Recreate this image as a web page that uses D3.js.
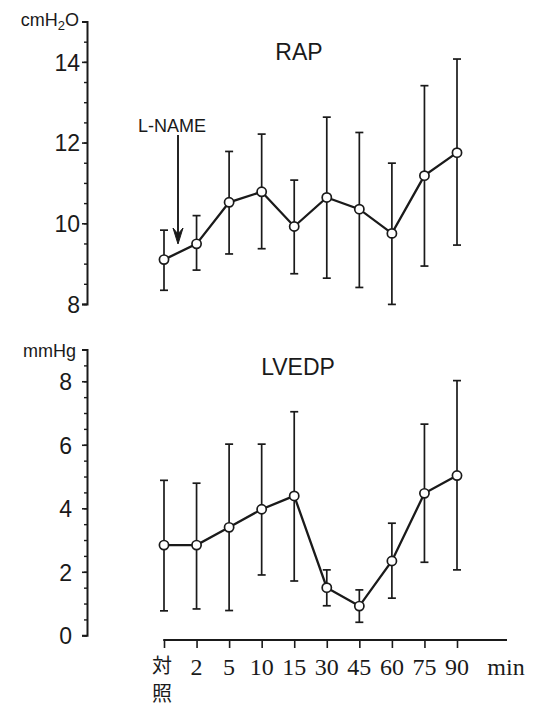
<!DOCTYPE html>
<html>
<head>
<meta charset="utf-8">
<script src="https://cdn.jsdelivr.net/npm/d3@7"></script>
<style>
  html, body { margin: 0; padding: 0; background: #ffffff; }
  svg { display: block; }
  text { fill: #1a1a1a; }
</style>
</head>
<body>
<svg id="chart" width="540" height="708"></svg>
<script>
// ---- data ----
const categories = ["対照", "2", "5", "10", "15", "30", "45", "60", "75", "90"];
const rapMean  = [9.10, 9.49, 10.52, 10.78, 9.92, 10.64, 10.35, 9.75, 11.18, 11.75];
const rapUpper = [9.83, 10.19, 11.78, 12.21, 11.07, 12.63, 12.25, 11.49, 13.41, 14.07];
const rapLower = [8.34, 8.84, 9.24, 9.37, 8.75, 8.64, 8.41, 7.99, 8.94, 9.46];
const lvedpMean  = [2.84, 2.84, 3.40, 3.97, 4.39, 1.50, 0.92, 2.34, 4.47, 5.03];
const lvedpUpper = [4.88, 4.79, 6.02, 6.02, 7.04, 2.06, 1.43, 3.53, 6.65, 8.02];
const lvedpLower = [0.77, 0.83, 0.78, 1.90, 1.71, 0.93, 0.41, 1.17, 2.30, 2.06];
const rapTicks = [8, 10, 12, 14];
const lvedpTicks = [0, 2, 4, 6, 8];
const xUnit = "min";
const arrowLabel = "L-NAME";

// ---- layout ----
const ink = "#1a1a1a";
const svg = d3.select("#chart");
const axisX = 87;
const x = d3.scalePoint().domain(categories).range([164, 457]);

const yTop = d3.scaleLinear().domain([8, 15]).range([304, 21.5]);
const yBot = d3.scaleLinear().domain([0, 9]).range([635.3, 349.5]);

function halfSteps(lo, hi) {
  const out = [];
  for (let v = lo; v <= hi + 1e-9; v += 0.5) out.push(+v.toFixed(2));
  return out;
}

function drawYAxis(scale, majors, lo, hi, padding) {
  const g = svg.append("g").attr("transform", `translate(${axisX},0)`);
  const minor = g.append("g").call(
    d3.axisLeft(scale).tickValues(halfSteps(lo, hi)).tickSize(3).tickSizeOuter(5).tickFormat(""));
  minor.selectAll("path.domain").attr("stroke", ink).attr("stroke-width", 2);
  minor.selectAll(".tick line").attr("stroke", ink).attr("stroke-width", 1.4);
  const major = g.append("g").call(
    d3.axisLeft(scale).tickValues(majors).tickSize(5).tickPadding(padding).tickFormat(d3.format("d")));
  major.select("path.domain").remove();
  major.selectAll(".tick line").attr("stroke", ink).attr("stroke-width", 1.6);
  major.selectAll(".tick text")
    .attr("font-family", "Liberation Sans, Arial, sans-serif")
    .attr("font-size", 23)
    .attr("fill", ink)
    .attr("dy", "0.36em");
}

function drawSeries(scale, mean, upper, lower) {
  const g = svg.append("g");
  categories.forEach((c, i) => {
    const cx = x(c);
    g.append("line").attr("x1", cx).attr("x2", cx)
      .attr("y1", scale(upper[i])).attr("y2", scale(lower[i]))
      .attr("stroke", ink).attr("stroke-width", 1.7);
    [upper[i], lower[i]].forEach(v => {
      g.append("line").attr("x1", cx - 4).attr("x2", cx + 4)
        .attr("y1", scale(v)).attr("y2", scale(v))
        .attr("stroke", ink).attr("stroke-width", 1.7);
    });
  });
  const line = d3.line().x((d, i) => x(categories[i])).y(d => scale(d));
  g.append("path").datum(mean).attr("d", line)
    .attr("fill", "none").attr("stroke", ink).attr("stroke-width", 2.3);
  g.selectAll("circle").data(mean).enter().append("circle")
    .attr("cx", (d, i) => x(categories[i]))
    .attr("cy", d => scale(d))
    .attr("r", 4.6)
    .attr("fill", "#ffffff").attr("stroke", ink).attr("stroke-width", 1.7);
}

// ---- top panel: RAP ----
drawYAxis(yTop, rapTicks, 8, 15, 2);
drawSeries(yTop, rapMean, rapUpper, rapLower);

const unitTop = svg.append("text")
  .attr("x", 79).attr("y", 26)
  .attr("text-anchor", "end")
  .attr("font-family", "Liberation Sans, Arial, sans-serif")
  .attr("font-size", 18);
unitTop.append("tspan").text("cmH");
unitTop.append("tspan").attr("font-size", 13).attr("dy", 4).text("2");
unitTop.append("tspan").attr("dy", -4).text("O");

svg.append("text").attr("x", 299).attr("y", 60)
  .attr("text-anchor", "middle")
  .attr("font-family", "Liberation Sans, Arial, sans-serif")
  .attr("font-size", 23).text("RAP");

svg.append("text").attr("x", 172).attr("y", 132)
  .attr("text-anchor", "middle")
  .attr("font-family", "Liberation Sans, Arial, sans-serif")
  .attr("font-size", 18).text(arrowLabel);
const ax = 178, ay0 = 135, ay1 = 244;
svg.append("line").attr("x1", ax).attr("x2", ax).attr("y1", ay0).attr("y2", ay1 - 6)
  .attr("stroke", ink).attr("stroke-width", 1.9);
svg.append("path")
  .attr("d", `M${ax},${ay1} L${ax - 5},${ay1 - 16} L${ax},${ay1 - 10} L${ax + 5},${ay1 - 16} Z`)
  .attr("fill", ink).attr("stroke", ink).attr("stroke-width", 1);

// ---- bottom panel: LVEDP ----
drawYAxis(yBot, lvedpTicks, 0, 9, 10);
drawSeries(yBot, lvedpMean, lvedpUpper, lvedpLower);

svg.append("text").attr("x", 76).attr("y", 357)
  .attr("text-anchor", "end")
  .attr("font-family", "Liberation Sans, Arial, sans-serif")
  .attr("font-size", 18).text("mmHg");

svg.append("text").attr("x", 298).attr("y", 375)
  .attr("text-anchor", "middle")
  .attr("font-family", "Liberation Sans, Arial, sans-serif")
  .attr("font-size", 23).text("LVEDP");

// ---- x axis ----
const xAxisY = 640;
const xg = svg.append("g").attr("transform", `translate(0,${xAxisY})`)
  .call(d3.axisBottom(x).tickSize(8).tickSizeOuter(0).tickFormat(""));
xg.select("path.domain").remove();
xg.selectAll(".tick line").attr("stroke", ink).attr("stroke-width", 1.6);
svg.append("line").attr("x1", x(categories[0]) - 0.8).attr("x2", 507)
  .attr("y1", xAxisY).attr("y2", xAxisY)
  .attr("stroke", ink).attr("stroke-width", 2);

categories.forEach((c, i) => {
  if (i === 0) {
    const chars = Array.from(c);
    chars.forEach((ch, j) => {
      svg.append("text").attr("x", x(c) - 2).attr("y", 673 + j * 28)
        .attr("text-anchor", "middle")
        .attr("font-family", "Noto Sans CJK JP, sans-serif")
        .attr("font-size", 20).text(ch);
    });
  } else {
    svg.append("text").attr("x", x(c)).attr("y", 675)
      .attr("text-anchor", "middle")
      .attr("font-family", "Liberation Serif, Times New Roman, serif")
      .attr("font-size", 24).text(c);
  }
});
svg.append("text").attr("x", 506).attr("y", 675)
  .attr("text-anchor", "middle")
  .attr("font-family", "Liberation Serif, Times New Roman, serif")
  .attr("font-size", 24).text(xUnit);
</script>
</body>
</html>
